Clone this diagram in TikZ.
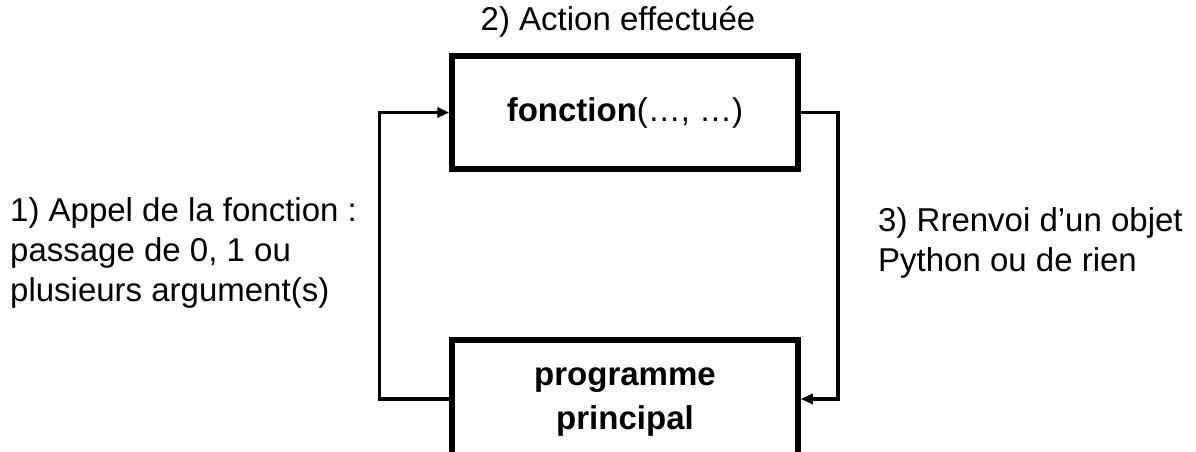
\documentclass[tikz,border=0pt]{standalone}
\usepackage{fontspec}
\setmainfont{Liberation Sans}
\usetikzlibrary{arrows.meta}
\tikzset{
  box/.style={draw, line width=5.5pt, minimum width=346pt, inner sep=0pt, align=center,
    font=\fontsize{33pt}{43pt}\selectfont},
  lbl/.style={inner sep=0pt, align=left, font=\fontsize{33pt}{40pt}\selectfont},
  conn/.style={line width=3.5pt, -{Triangle[length=12pt,width=10pt]}}
}
\begin{document}
\begin{tikzpicture}[x=1pt,y=-1pt]
\useasboundingbox (0,0) rectangle (1196,451);
\clip (0,0) rectangle (1196,451);
\node[box, minimum height=113pt] (fn) at (625,112.5) {\raisebox{-5pt}{\textbf{fonction}(…, …)}};
\node[box, minimum height=118pt] (pp) at (625,399) {\raisebox{-4pt}{\begin{tabular}{@{}c@{}}\textbf{programme}\\[1pt]\textbf{principal}\end{tabular}}};
\node[lbl] (act) at (618,22) {2) Action effectuée};
\node[lbl, anchor=west] (appel) at (10,253) {1) Appel de la fonction :\\passage de 0, 1 ou\\plusieurs argument(s)};
\node[lbl, anchor=west] (renv) at (878,243) {3) Rrenvoi d’un objet\\Python ou de rien};
\draw[conn] (pp.west) -- ++(-70,0) |- (fn.west);
\draw[conn] (fn.east) -- ++(37,0) |- (pp.east);
\end{tikzpicture}
\end{document}
